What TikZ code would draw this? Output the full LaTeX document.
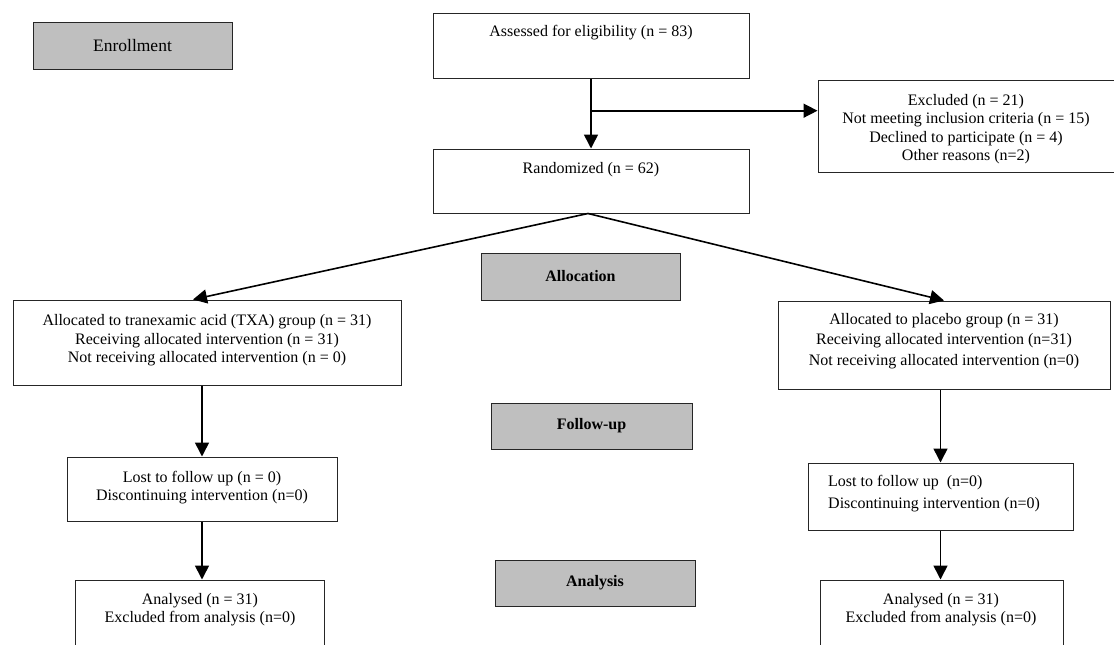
\documentclass[tikz,border=0pt]{standalone}
\usepackage{fontspec}
\setmainfont{Liberation Serif}
\usetikzlibrary{arrows.meta,calc}
\begin{document}
\begin{tikzpicture}[x=1pt,y=-1pt,
  rbox/.style={draw=black!85, line width=1pt, inner sep=0pt},
  gbox/.style={rbox, fill=gray!50, font=\fontsize{16}{19}\selectfont\bfseries},
  txt/.style={inner sep=0pt, align=center, font=\fontsize{16}{18.5}\selectfont},
  arr/.style={line width=1.6pt, -{Triangle[length=14pt,width=14pt]}}]
\useasboundingbox (0,0) rectangle (1114,645);
\clip (0,0) rectangle (1114,645);
% phase boxes
\node[rbox, fill=gray!50, minimum width=199pt, minimum height=47pt, font=\fontsize{17.5}{20}\selectfont] (enroll) at (132.5,45.5) {Enrollment};
\node[gbox, minimum width=199pt, minimum height=47pt] (alloc) at (580.5,276.5) {Allocation};
\node[gbox, minimum width=201pt, minimum height=46pt] (follow) at (591.5,426) {Follow-up};
\node[gbox, minimum width=200pt, minimum height=46pt] (analysis) at (595,583) {Analysis};
% flow boxes
\node[rbox, minimum width=316pt, minimum height=65pt] (assess) at (591,45.5) {};
\node[txt] (assessT) at (591,33) {Assessed for eligibility (n = 83)};
\node[rbox, minimum width=302pt, minimum height=92pt] (excl) at (969,126) {};
\node[txt] (exclT) at (966,129) {Excluded (n = 21)\\Not meeting inclusion criteria (n = 15)\\Declined to participate (n = 4)\\Other reasons (n=2)};
\node[rbox, minimum width=316pt, minimum height=64pt] (rand) at (591,181) {};
\node[txt] (randT) at (591,170) {Randomized (n = 62)};
\node[rbox, minimum width=388pt, minimum height=85pt] (txa) at (207,342.5) {};
\node[txt] (txaT) at (207,340.5) {Allocated to tranexamic acid (TXA) group (n = 31)\\Receiving allocated intervention (n = 31)\\Not receiving allocated intervention (n = 0)};
\node[rbox, minimum width=332pt, minimum height=88pt] (plac) at (944,345) {};
\node[txt, font=\fontsize{16}{20.5}\selectfont] (placT) at (944,341) {Allocated to placebo group (n = 31)\\Receiving allocated intervention (n=31)\\Not receiving allocated intervention (n=0)};
\node[rbox, minimum width=270pt, minimum height=64pt] (lostL) at (202,489) {};
\node[txt] (lostLT) at (202,487.5) {Lost to follow up (n = 0)\\Discontinuing intervention (n=0)};
\node[rbox, minimum width=265pt, minimum height=67pt] (lostR) at (940.5,496.5) {};
\node[txt, align=left, anchor=west, font=\fontsize{16}{22}\selectfont] (lostRT) at (828,494) {Lost to follow up~~(n=0)\\Discontinuing intervention (n=0)};
\node[rbox, minimum width=249pt, minimum height=80pt] (anaL) at (199.5,620) {};
\node[txt] (anaLT) at (200,609.5) {Analysed (n = 31)\\Excluded from analysis (n=0)};
\node[rbox, minimum width=243pt, minimum height=80pt] (anaR) at (941.5,620) {};
\node[txt] (anaRT) at (941,609.5) {Analysed (n = 31)\\Excluded from analysis (n=0)};
% connectors
\draw[arr] (assess.south) -- (rand.north);
\coordinate (br) at ($(assess.south)!0.46!(rand.north)$);
\draw[arr] (br) -- (br -| excl.west);
\draw[arr] ($(rand.south)+(-3,0)$) -- ($(txa.north)+(-14,0)$);
\draw[arr] ($(rand.south)+(-3,0)$) -- (plac.north);
\draw[arr] (lostL.north |- txa.south) -- (lostL.north);
\draw[arr] (lostL.south) -- (lostL.south |- anaL.north);
\draw[arr] (lostR.north |- plac.south) -- (lostR.north);
\draw[arr] (lostR.south) -- (lostR.south |- anaR.north);
\end{tikzpicture}
\end{document}
